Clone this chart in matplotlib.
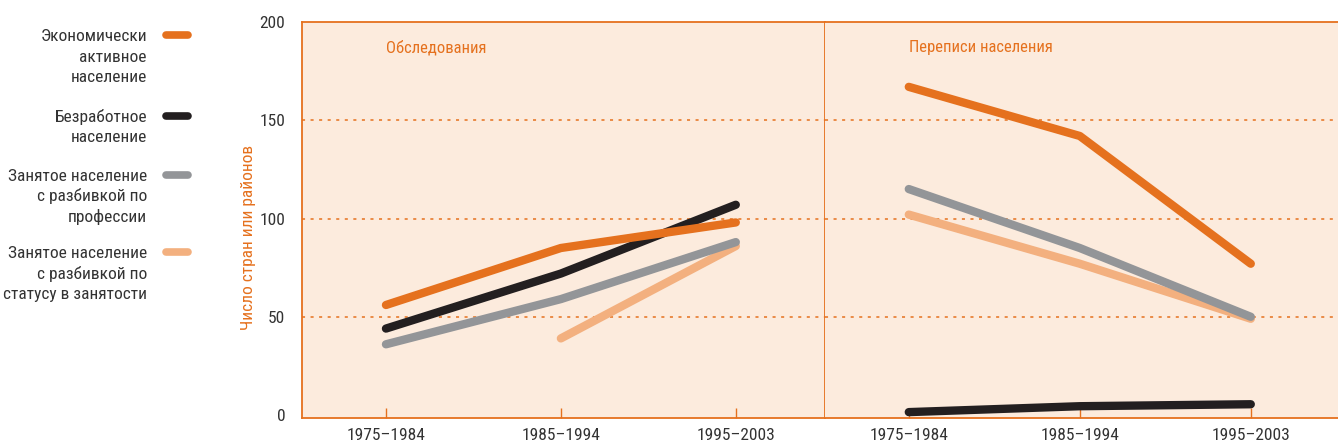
import matplotlib
matplotlib.use("Agg")
import matplotlib.pyplot as plt
from matplotlib import font_manager

# ---------------- data ----------------
periods = ["1975–1984", "1985–1994", "1995–2003"]
panel_titles = ["Обследования", "Переписи населения"]
series_names = [
    "Экономически\nактивное\nнаселение",
    "Безработное\nнаселение",
    "Занятое население\nс разбивкой по\nпрофессии",
    "Занятое население\nс разбивкой по\nстатусу в занятости",
]
# Surveys (Обследования)
survey_active = [56, 85, 98]
survey_unemployed = [44, 72, 107]
survey_occupation = [36, 59, 88]
survey_status = [None, 39, 86]
# Censuses (Переписи населения)
census_active = [167, 142, 77]
census_unemployed = [1.5, 4.5, 5.5]
census_occupation = [115, 85, 50]
census_status = [102, 77, 49]
y_ticks = [0, 50, 100, 150, 200]
y_label = "Число стран или районов"

# ---------------- style ----------------
ORANGE = "#E5711E"
BLACK = "#231F20"
GREY = "#939598"
LIGHT = "#F3B07F"
BG = "#FCEBDD"
TXT = "#333333"
colors = [ORANGE, BLACK, GREY, LIGHT]

avail = {f.name for f in font_manager.fontManager.ttflist}
cands = ["Liberation Sans Narrow", "Roboto Condensed", "Open Sans Condensed",
         "Noto Sans Condensed", "Roboto", "Liberation Sans"]
fam = [c for c in cands if c in avail][:1] or ["DejaVu Sans"]
plt.rcParams["font.family"] = fam + ["DejaVu Sans"]

W, H = 1338, 446
fig = plt.figure(figsize=(W / 100, H / 100), dpi=100)
left, right = 302 / W, 1.0
top, bottom = 1 - 22 / H, 1 - 418 / H
gs = fig.add_gridspec(1, 2, left=left, right=right, top=top, bottom=bottom,
                      wspace=0, width_ratios=[523, 513])
axL = fig.add_subplot(gs[0])
axR = fig.add_subplot(gs[1], sharey=axL)

data = [
    [survey_active, survey_unemployed, survey_occupation, survey_status],
    [census_active, census_unemployed, census_occupation, census_status],
]
xlims = [(-0.48, 2.51), (-0.49, 2.51)]
FS = 12.5

for k, ax in enumerate([axL, axR]):
    ax.set_facecolor(BG)
    ax.set_xlim(*xlims[k])
    ax.set_ylim(-1.5, 200)
    for yv in y_ticks[1:-1]:
        ax.axhline(yv, color=ORANGE, lw=1.1, linestyle=(0, (2.0, 3.6)), zorder=1)
    order = [3, 2, 1, 0]
    for i in order:
        vals = data[k][i]
        xs = [j for j, v in enumerate(vals) if v is not None]
        ys = [v for v in vals if v is not None]
        ax.plot(xs, ys, color=colors[i], lw=6.0, solid_capstyle="round",
                solid_joinstyle="round", zorder=3)
    ax.set_xticks(range(len(periods)))
    ax.set_xticklabels(periods)
    ax.tick_params(axis="x", direction="in", length=7, width=1, color=ORANGE,
                   labelsize=FS, labelcolor=TXT, pad=7)
    for s in ax.spines.values():
        s.set_color(ORANGE)
        s.set_linewidth(1.3)
    ax.spines["right"].set_visible(False)
    ax.text(0.0, 187, panel_titles[k], color=ORANGE, fontsize=FS - 0.5,
            ha="left", va="center")

axL.spines["right"].set_visible(True)
axR.spines["left"].set_visible(False)
axL.set_yticks(y_ticks)
axL.tick_params(axis="y", length=0, labelsize=FS, labelcolor=TXT, pad=12)
axR.tick_params(axis="y", left=False, labelleft=False)
fig.text(248 / W, 1 - 237 / H, y_label, rotation=90, color=ORANGE,
         fontsize=FS, ha="center", va="center")

# legend (drawn manually on figure)
entry_y = [35, 116, 175, 252]
line_gap = 20.5
for name, c, y0 in zip(series_names, colors, entry_y):
    for n, line in enumerate(name.split("\n")):
        fig.text(147 / W, 1 - (y0 + n * line_gap + 6) / H, line, color=TXT,
                 fontsize=FS, ha="right", va="baseline")
    fig.add_artist(plt.Line2D([166 / W, 188 / W], [1 - y0 / H, 1 - y0 / H],
                              color=c, lw=5.5, solid_capstyle="round"))

fig.savefig("out.png", dpi=100)
